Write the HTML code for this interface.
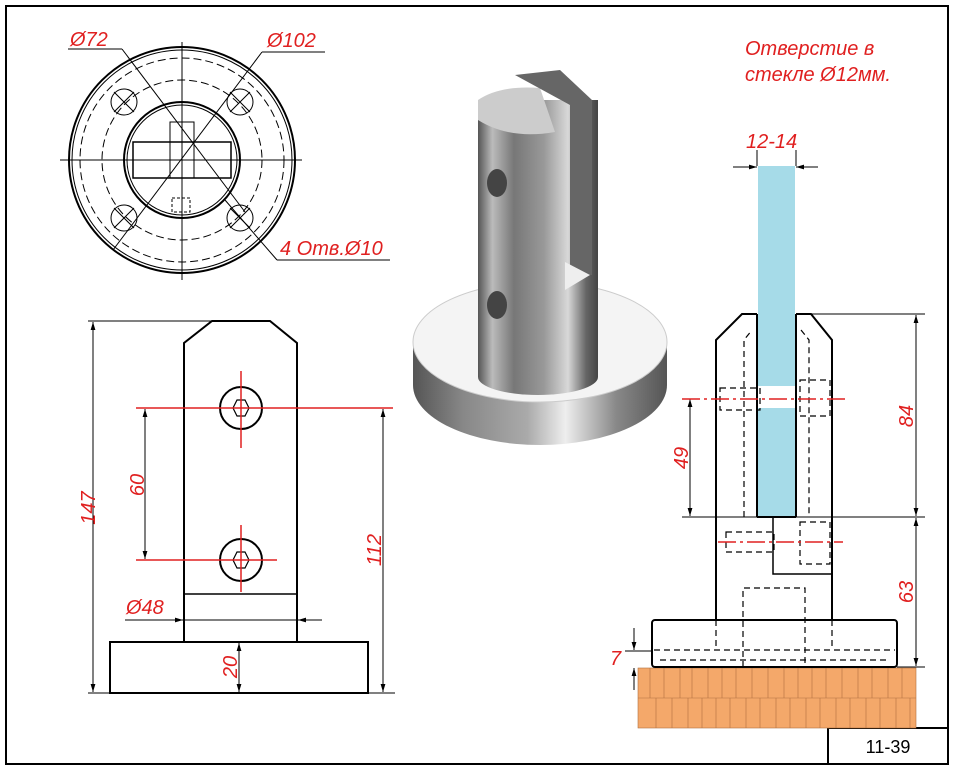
<!DOCTYPE html>
<html><head><meta charset="utf-8"><style>
html,body{margin:0;padding:0;background:#fff;}
svg{display:block;}
text{font-family:"Liberation Sans",sans-serif;}
.r{fill:#e02020;font-style:italic;font-size:20px;}
</style></head><body>
<svg width="956" height="770" viewBox="0 0 956 770" xmlns="http://www.w3.org/2000/svg">
<defs>
<linearGradient id="cyl" x1="0" x2="1" y1="0" y2="0">
<stop offset="0" stop-color="#555"/><stop offset="0.12" stop-color="#bbb"/><stop offset="0.3" stop-color="#777"/><stop offset="0.55" stop-color="#999"/><stop offset="0.75" stop-color="#d8d8d8"/><stop offset="0.9" stop-color="#666"/><stop offset="1" stop-color="#444"/>
</linearGradient>
<linearGradient id="disk" x1="0" x2="1" y1="0" y2="0">
<stop offset="0" stop-color="#555"/><stop offset="0.2" stop-color="#888"/><stop offset="0.45" stop-color="#aaa"/><stop offset="0.6" stop-color="#eee"/><stop offset="0.8" stop-color="#888"/><stop offset="1" stop-color="#555"/>
</linearGradient>
<marker id="a" viewBox="0 0 10 10" refX="10" refY="5" markerWidth="8" markerHeight="8" orient="auto-start-reverse"><path d="M0,2 L10,5 L0,8z" fill="#000"/></marker>
</defs>
<rect x="6" y="6" width="942" height="758" fill="none" stroke="#000" stroke-width="2"/>
<rect x="828" y="728" width="120" height="36" fill="none" stroke="#000" stroke-width="2"/>
<text x="888" y="753" font-size="18" text-anchor="middle">11-39</text>

<!-- top view -->
<g fill="none" stroke="#000">
<circle cx="182" cy="160" r="113" stroke-width="2"/>
<circle cx="182" cy="160" r="110" stroke-width="1"/>
<circle cx="182" cy="160" r="102" stroke-dasharray="8,4"/>
<circle cx="182" cy="160" r="80" stroke-dasharray="8,4"/>
<circle cx="182" cy="160" r="58" stroke-width="2"/>
<circle cx="182" cy="160" r="55"/>
<rect x="133" y="142" width="98" height="36" stroke-width="1.5"/>
<rect x="170" y="122" width="24" height="56" stroke-width="1"/>
<rect x="172" y="198" width="18" height="14" stroke-dasharray="3,2"/>
<line x1="60" y1="160" x2="302" y2="160"/>
<line x1="182" y1="42" x2="182" y2="280"/>
<g stroke-width="1">
<circle cx="124" cy="102" r="13"/><circle cx="240" cy="102" r="13"/>
<circle cx="124" cy="218" r="13"/><circle cx="240" cy="218" r="13"/>
<path d="M114,92l20,20M134,92l-20,20M230,92l20,20M250,92l-20,20M114,208l20,20M134,208l-20,20M230,208l20,20M250,208l-20,20"/>
</g>
<line x1="68" y1="49" x2="122" y2="49"/><line x1="122" y1="49" x2="245" y2="212"/>
<line x1="262" y1="52" x2="325" y2="52"/><line x1="262" y1="52" x2="113" y2="250"/>
<line x1="225" y1="200" x2="277" y2="260"/><line x1="277" y1="260" x2="390" y2="260"/>
</g>
<text class="r" x="70" y="46">Ø72</text>
<text class="r" x="267" y="47">Ø102</text>
<text class="r" x="280" y="255">4 Отв.Ø10</text>

<!-- 3D -->
<ellipse cx="540" cy="385" rx="127" ry="60" fill="url(#disk)"/>
<rect x="413" y="342" width="254" height="43" fill="url(#disk)"/>
<ellipse cx="540" cy="342" rx="127" ry="60" fill="#f4f4f4" stroke="#ccc"/>
<ellipse cx="538" cy="377" rx="60" ry="18" fill="url(#cyl)"/>
<rect x="478" y="100" width="120" height="277" fill="url(#cyl)"/>
<path d="M478,100 Q500,85 540,88 L555,132 Q510,140 478,120z" fill="#ccc"/>
<path d="M515,75 L560,70 L592,100 L592,275 L570,275 L570,105z" fill="#666"/>
<path d="M565,262 L590,275 L565,290z" fill="#eee"/>
<ellipse cx="497" cy="183" rx="10" ry="14" fill="#444"/>
<ellipse cx="497" cy="305" rx="10" ry="14" fill="#444"/>

<text class="r" x="745" y="55">Отверстие в</text>
<text class="r" x="745" y="81">стекле Ø12мм.</text>

<!-- front view -->
<g fill="none" stroke="#000" stroke-width="2">
<path d="M184,642 L184,343 L212,321 L270,321 L297,343 L297,642"/>
<rect x="110" y="642" width="258" height="51"/>
<line x1="184" y1="594" x2="297" y2="594" stroke-width="1.5"/>
<circle cx="241" cy="408" r="21"/><circle cx="241" cy="560" r="21"/>
<polygon points="233,408 237,400 245,400 249,408 245,416 237,416" stroke-width="1.2"/>
<polygon points="233,560 237,552 245,552 249,560 245,568 237,568" stroke-width="1.2"/>
</g>
<g stroke="#000" stroke-width="1" fill="none">
<line x1="88" y1="321" x2="212" y2="321"/><line x1="88" y1="693" x2="395" y2="693"/>
<line x1="93" y1="322" x2="93" y2="692" marker-start="url(#a)" marker-end="url(#a)"/>
<line x1="383" y1="409" x2="383" y2="692" marker-start="url(#a)" marker-end="url(#a)"/>
<line x1="145" y1="409" x2="145" y2="559" marker-start="url(#a)" marker-end="url(#a)"/>
<line x1="239" y1="643" x2="239" y2="692" marker-start="url(#a)" marker-end="url(#a)"/>
<line x1="125" y1="620" x2="183" y2="620" marker-end="url(#a)"/><line x1="183" y1="620" x2="298" y2="620"/>
<line x1="322" y1="620" x2="298" y2="620" marker-end="url(#a)"/>
</g>
<g stroke="#e02020" stroke-width="1.5">
<line x1="136" y1="408" x2="393" y2="408"/><line x1="136" y1="560" x2="277" y2="560"/>
<line x1="241" y1="371" x2="241" y2="448"/><line x1="241" y1="525" x2="241" y2="592"/>
</g>
<text class="r" transform="translate(95,508) rotate(-90)" text-anchor="middle">147</text>
<text class="r" transform="translate(144,485) rotate(-90)" text-anchor="middle">60</text>
<text class="r" transform="translate(381,550) rotate(-90)" text-anchor="middle">112</text>
<text class="r" transform="translate(237,667) rotate(-90)" text-anchor="middle">20</text>
<text class="r" x="126" y="614">Ø48</text>

<!-- side view -->
<g fill="#f4a86a" stroke="#b07040" stroke-width="0.6">
<rect x="638" y="668" width="278" height="60"/>
<path d="M638,698H916M650,668V698M664,668V698M680,668V698M692,668V698M708,668V698M722,668V698M736,668V698M752,668V698M768,668V698M784,668V698M798,668V698M812,668V698M826,668V698M842,668V698M858,668V698M872,668V698M888,668V698M902,668V698M656,698V728M672,698V728M688,698V728M702,698V728M716,698V728M730,698V728M746,698V728M760,698V728M776,698V728M790,698V728M806,698V728M820,698V728M836,698V728M850,698V728M866,698V728M880,698V728M896,698V728M910,698V728"/>
</g>
<rect x="758" y="166" width="37" height="351" fill="#a6dbe8"/>
<rect x="758" y="386" width="37" height="22" fill="#fff"/>
<g fill="none" stroke="#000" stroke-width="2">
<path d="M716,620 L716,340 L742,314 L757,314 M796,314 L811,314 L832,340 L832,620"/>
<line x1="757" y1="314" x2="757" y2="517"/><line x1="796" y1="314" x2="796" y2="517"/>
<line x1="757" y1="517" x2="796" y2="517"/>
<rect x="652" y="620" width="245" height="47" rx="3"/>
<path d="M773,517 L773,574 L832,574" stroke-width="1.5"/>
</g>
<g fill="none" stroke="#000" stroke-width="1.2" stroke-dasharray="6,4">
<path d="M744,517 L744,340 L752,330 M801,330 L809,340 L809,517"/>
<rect x="720" y="388" width="40" height="22"/>
<rect x="800" y="380" width="30" height="36"/>
<rect x="726" y="532" width="48" height="20"/>
<rect x="800" y="522" width="30" height="42"/>
<path d="M743,667 L743,588 L805,588 L805,667"/>
<path d="M654,650 L895,650 M660,660 L890,660"/>
<path d="M716,620 L716,650 M832,620 L832,650"/>
</g>
<g stroke="#000" stroke-width="1" fill="none">
<line x1="798" y1="314" x2="925" y2="314"/><line x1="682" y1="517" x2="925" y2="517"/>
<line x1="897" y1="667" x2="925" y2="667"/>
<line x1="916" y1="315" x2="916" y2="516" marker-start="url(#a)" marker-end="url(#a)"/>
<line x1="916" y1="518" x2="916" y2="666" marker-start="url(#a)" marker-end="url(#a)"/>
<line x1="690" y1="399" x2="690" y2="516" marker-start="url(#a)" marker-end="url(#a)"/>
<line x1="634" y1="628" x2="634" y2="650" marker-end="url(#a)"/>
<line x1="634" y1="690" x2="634" y2="668" marker-end="url(#a)"/>
<line x1="625" y1="651" x2="652" y2="651"/>
<line x1="733" y1="167" x2="757" y2="167" marker-end="url(#a)"/>
<line x1="818" y1="167" x2="796" y2="167" marker-end="url(#a)"/>
<line x1="757" y1="150" x2="757" y2="166"/><line x1="796" y1="150" x2="796" y2="166"/>
</g>
<g stroke="#e02020" stroke-width="1.5" stroke-dasharray="18,4,3,4">
<line x1="682" y1="399" x2="845" y2="399"/>
<line x1="718" y1="542" x2="843" y2="542"/>
</g>
<text class="r" x="746" y="148">12-14</text>
<text class="r" transform="translate(688,458) rotate(-90)" text-anchor="middle">49</text>
<text class="r" transform="translate(913,416) rotate(-90)" text-anchor="middle">84</text>
<text class="r" transform="translate(913,592) rotate(-90)" text-anchor="middle">63</text>
<text class="r" x="610" y="665">7</text>
</svg>
</body></html>
